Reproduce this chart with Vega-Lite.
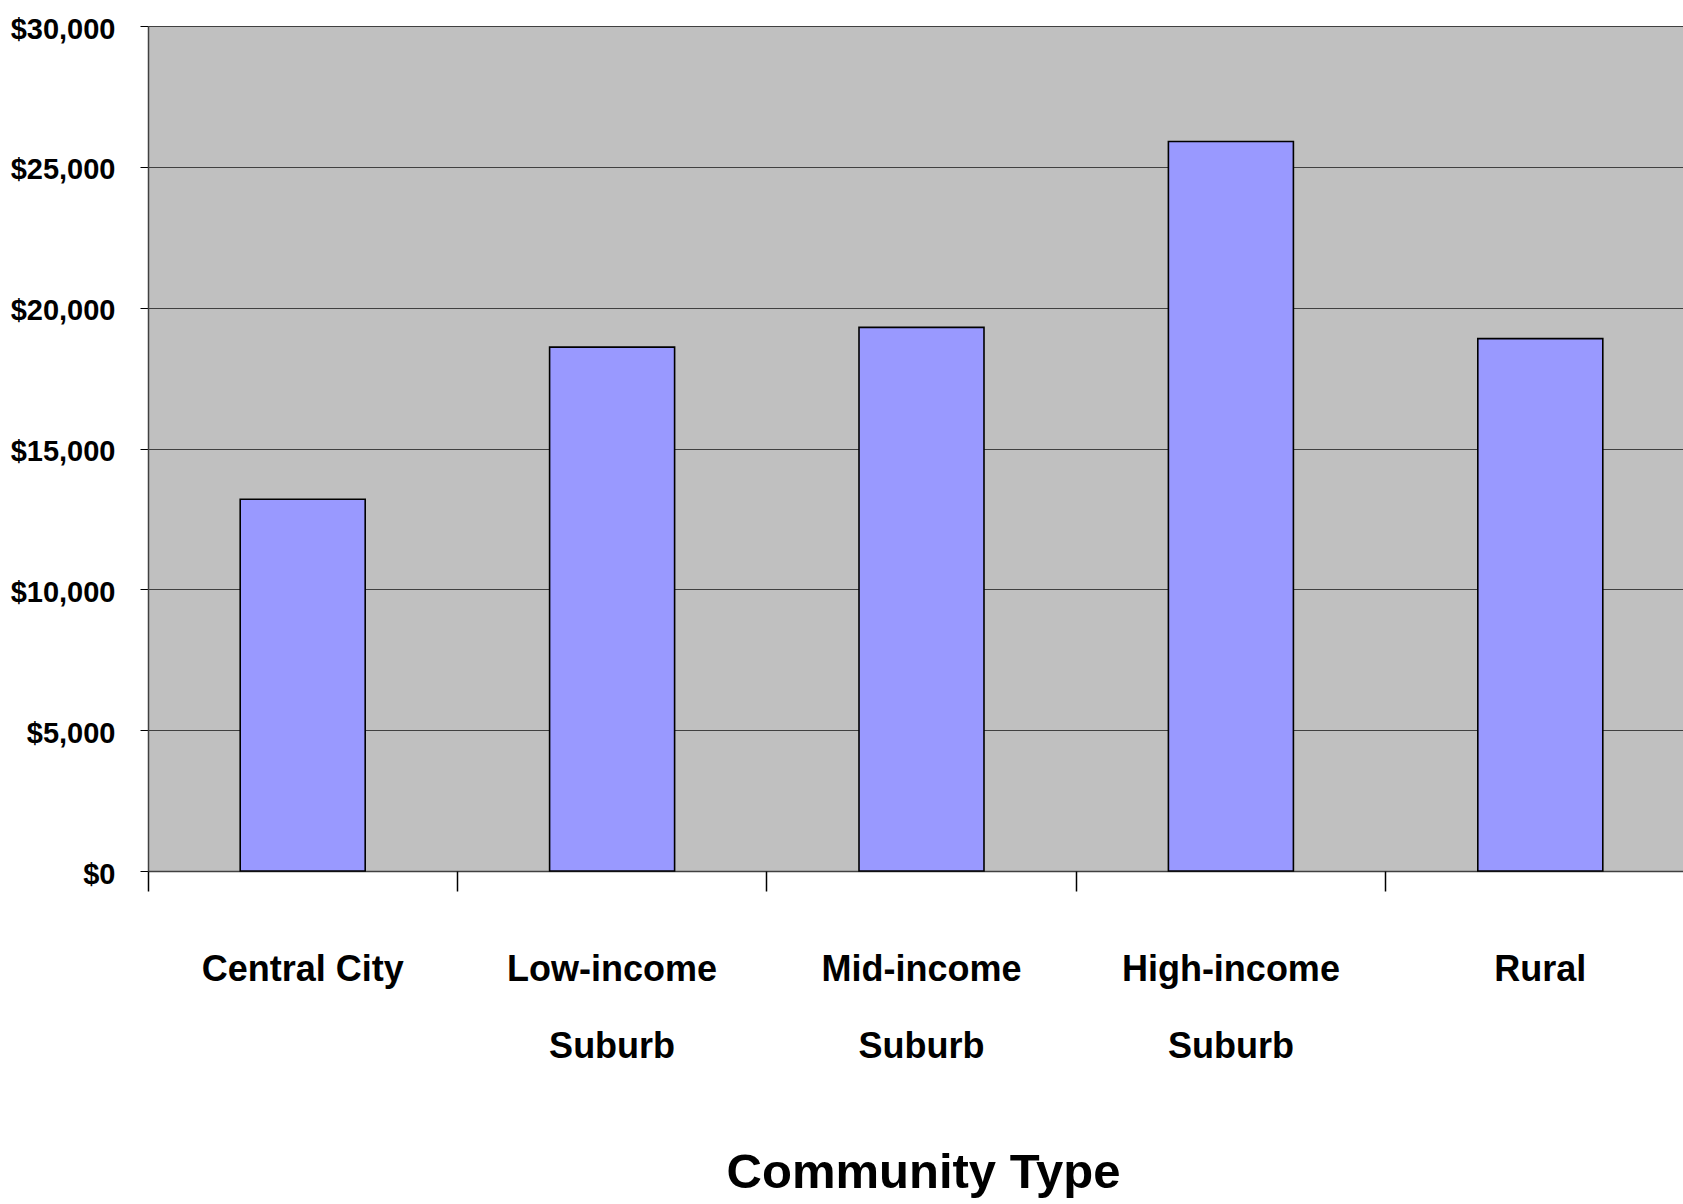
{
  "$schema": "https://vega.github.io/schema/vega-lite/v6.json",
  "autosize": {"type": "none"},
  "width": 1535,
  "height": 845,
  "padding": {"left": 148, "top": 26, "right": 0, "bottom": 333},
  "background": "white",
  "config": {
    "view": {"fill": "#C0C0C0", "stroke": null},
    "font": "Liberation Sans"
  },
  "data": {
    "values": [
      {"type": "Central City", "value": 13200},
      {"type": "Low-income Suburb", "value": 18600},
      {"type": "Mid-income Suburb", "value": 19300},
      {"type": "High-income Suburb", "value": 25900},
      {"type": "Rural", "value": 18900}
    ]
  },
  "layer": [
    {
      "mark": {"type": "bar", "fill": "#9999FF", "stroke": "#000000", "strokeWidth": 1.6, "width": {"band": 0.404}},
      "encoding": {
        "x": {
          "field": "type",
          "type": "nominal",
          "sort": null,
          "scale": {"range": [0, 1547], "paddingInner": 0, "paddingOuter": 0},
          "axis": {
            "orient": "bottom",
            "title": "Community Type",
            "titleFont": "Liberation Sans",
            "titleFontSize": 49,
            "titleFontWeight": "bold",
            "titleColor": "#000000",
            "titleBaseline": "alphabetic",
            "titleY": 316,
            "titleX": 775,
            "titleAlign": "center",
            "labelAngle": 0,
            "labelFont": "Liberation Sans",
            "labelFontSize": 36,
            "labelFontWeight": "bold",
            "labelColor": "#000000",
            "labelBaseline": "top",
            "labelLineHeight": 77,
            "labelPadding": 81,
            "labelLimit": 0,
            "labelExpr": "datum.label == 'Central City' || datum.label == 'Rural' ? datum.label : split(datum.label, ' ')",
            "ticks": false,
            "domain": true,
            "domainColor": "#404040",
            "domainWidth": 1.5,
            "grid": false
          }
        },
        "y": {
          "field": "value",
          "type": "quantitative",
          "scale": {"domain": [0, 30000], "nice": false},
          "axis": {
            "title": null,
            "values": [0, 5000, 10000, 15000, 20000, 25000, 30000],
            "format": "$,.0f",
            "labelFont": "Liberation Sans",
            "labelFontSize": 29,
            "labelFontWeight": "bold",
            "labelColor": "#000000",
            "labelPadding": 25,
            "labelLimit": 0,
            "labelOffset": 3,
            "tickSize": 8,
            "tickColor": "#000000",
            "tickWidth": 1,
            "domainColor": "#404040",
            "domainWidth": 1.5,
            "grid": true,
            "gridColor": "#404040",
            "gridWidth": 1,
            "gridOpacity": 1
          }
        }
      }
    },
    {
      "mark": {"type": "bar", "fillOpacity": 0, "strokeOpacity": 0},
      "encoding": {
        "x": {
          "field": "type",
          "type": "nominal",
          "sort": null,
          "axis": {
            "orient": "bottom",
            "title": null,
            "labels": false,
            "domain": false,
            "grid": false,
            "ticks": true,
            "bandPosition": 0,
            "tickSize": 20,
            "tickColor": "#000000",
            "tickWidth": 1.5
          }
        },
        "y": {"field": "value", "type": "quantitative"}
      }
    }
  ],
  "resolve": {"axis": {"x": "independent"}}
}
